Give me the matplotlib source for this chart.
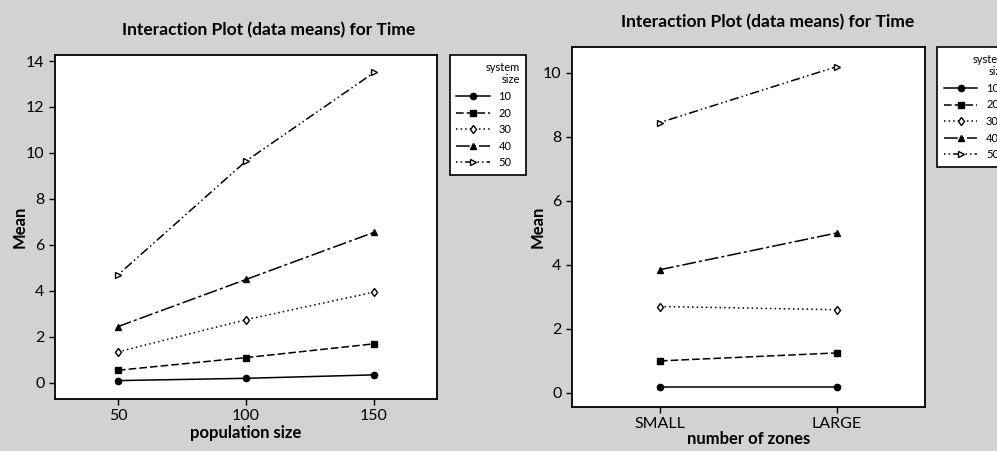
import matplotlib

matplotlib.use("Agg")

import matplotlib.pyplot as plt  # noqa: E402

plt.rcParams["font.family"] = ["Lato", "DejaVu Sans"]

# system size groups, shared by both panels
system_sizes = ["10", "20", "30", "40", "50"]

# left panel: mean time by population size
population_sizes = [50, 100, 150]
pop_means = {
    "10": [0.10, 0.20, 0.35],
    "20": [0.55, 1.10, 1.70],
    "30": [1.35, 2.75, 3.95],
    "40": [2.45, 4.50, 6.55],
    "50": [4.70, 9.65, 13.50],
}

# right panel: mean time by number of zones
zone_labels = ["SMALL", "LARGE"]
zone_means = {
    "10": [0.20, 0.20],
    "20": [1.00, 1.25],
    "30": [2.70, 2.60],
    "40": [3.85, 5.00],
    "50": [8.45, 10.20],
}

styles = {
    "10": dict(ls="-", marker="o", ms=4.5, mfc="black"),
    "20": dict(ls=(0, (5, 2)), marker="s", ms=4.5, mfc="black"),
    "30": dict(ls=(0, (1, 2)), marker="d", ms=4.5, mfc="white"),
    "40": dict(ls=(0, (9, 2, 2, 2)), marker="^", ms=5, mfc="black"),
    "50": dict(ls=(0, (1, 2, 1, 2, 6, 2)), marker=">", ms=5, mfc="white"),
}

BG = "#d2d2d2"
fig = plt.figure(figsize=(9.97, 4.51), dpi=100, facecolor=BG)


def style_axes(ax):
    for s in ax.spines.values():
        s.set_linewidth(1.3)
        s.set_color("black")
    ax.tick_params(labelsize=11.5, length=4, width=1, direction="out")


def add_legend(ax, x, y, w, h):
    handles = ax.get_lines()
    leg = fig.legend(
        handles,
        system_sizes,
        loc="upper left",
        bbox_to_anchor=(x, y, w, h),
        bbox_transform=fig.transFigure,
        mode="expand",
        title="system\nsize",
        fontsize=8,
        title_fontsize=8,
        frameon=True,
        fancybox=False,
        framealpha=1,
        facecolor="white",
        edgecolor="black",
        handlelength=3.0,
        labelspacing=0.5,
        borderpad=0.6,
        borderaxespad=0,
    )
    leg.get_frame().set_linewidth(1.2)
    leg.get_title().set_ha("right")
    leg._legend_box.align = "right"
    return leg


# ---- left panel ----
ax1 = fig.add_axes([0.0552, 0.1153, 0.3832, 0.7627])
for key in system_sizes:
    ax1.plot(population_sizes, pop_means[key], color="black", lw=1.1,
             mec="black", **styles[key])
ax1.set_xlim(25.4, 174.6)
ax1.set_ylim(-0.7, 14.26)
ax1.set_xticks(population_sizes)
ax1.set_yticks(range(0, 15, 2))
style_axes(ax1)
ax1.set_xlabel("population size", fontsize=12, fontweight="bold", labelpad=1)
ax1.set_ylabel("Mean", fontsize=12, fontweight="bold", labelpad=-1)
fig.text(0.269, 0.933, "Interaction Plot (data means) for Time",
         ha="center", va="center", fontsize=12.5, fontweight="bold")
add_legend(ax1, 0.451, 0.6075, 0.077, 0.2705)

# ---- right panel ----
ax2 = fig.add_axes([0.5737, 0.0976, 0.3541, 0.7982])
zone_x = list(range(1, len(zone_labels) + 1))
for key in system_sizes:
    ax2.plot(zone_x, zone_means[key], color="black", lw=1.1,
             mec="black", **styles[key])
ax2.set_xlim(0.503, 2.497)
ax2.set_ylim(-0.44, 10.81)
ax2.set_xticks(zone_x)
ax2.set_xticklabels(zone_labels)
ax2.set_yticks(range(0, 11, 2))
style_axes(ax2)
ax2.set_xlabel("number of zones", fontsize=12, fontweight="bold", labelpad=0)
ax2.set_ylabel("Mean", fontsize=12, fontweight="bold", labelpad=-2)
fig.text(0.770, 0.951, "Interaction Plot (data means) for Time",
         ha="center", va="center", fontsize=12.5, fontweight="bold")
add_legend(ax2, 0.940, 0.612, 0.077, 0.284)

fig.savefig("out.png", dpi=100, facecolor=BG)
